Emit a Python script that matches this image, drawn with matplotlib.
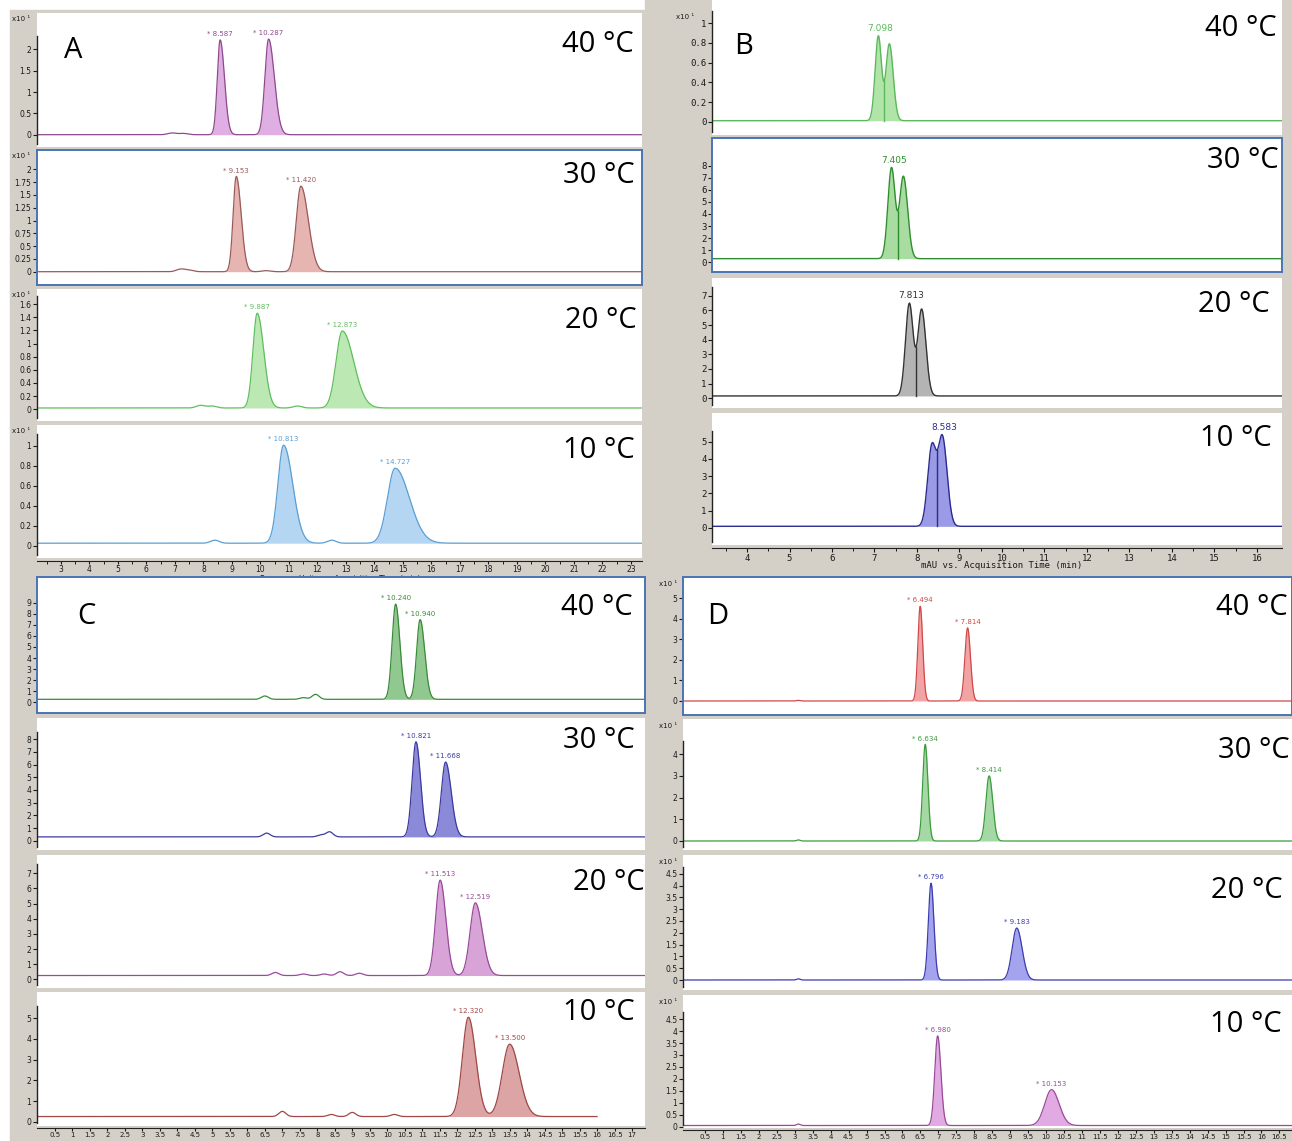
import numpy as np
import matplotlib
matplotlib.use("Agg")
import matplotlib.pyplot as plt
import matplotlib.transforms as mtrans

# ---------------- data ----------------
temps = ['40 °C', '30 °C', '20 °C', '10 °C']

# Panel A  (response x10^1)
A_rt = [[8.587, 10.287], [9.153, 11.420], [9.887, 12.873], [10.813, 14.727]]
A_height = [[2.22, 2.24], [1.86, 1.67], [1.44, 1.17], [0.98, 0.75]]
A_sig_l = [[0.10, 0.13], [0.11, 0.16], [0.15, 0.22], [0.20, 0.27]]
A_sig_r = [[0.15, 0.20], [0.17, 0.26], [0.23, 0.40], [0.32, 0.50]]
A_base = [0.0, 0.0, 0.02, 0.025]
A_bump_rt = [[6.9, 7.3], [7.2, 7.5, 10.2], [7.9, 8.3, 11.3], [8.4, 12.5]]
A_bump_h = [[0.04, 0.03], [0.05, 0.03, 0.02], [0.04, 0.03, 0.03], [0.03, 0.03]]
A_yticks = [[0, 0.5, 1, 1.5, 2],
            [0, 0.25, 0.5, 0.75, 1, 1.25, 1.5, 1.75, 2],
            [0, 0.2, 0.4, 0.6, 0.8, 1, 1.2, 1.4, 1.6],
            [0, 0.2, 0.4, 0.6, 0.8, 1]]
A_xticks = list(range(3, 24))

# Panel B  (mAU)
B_rt = [[7.09, 7.35], [7.40, 7.68], [7.82, 8.11], [8.35, 8.60]]
B_height = [[0.86, 0.78], [7.5, 6.8], [6.3, 5.9], [4.6, 5.1]]
B_sig_l = [[0.075, 0.08], [0.085, 0.09], [0.09, 0.09], [0.10, 0.10]]
B_sig_r = [[0.075, 0.09], [0.085, 0.10], [0.09, 0.10], [0.10, 0.11]]
B_base = [0.01, 0.3, 0.16, 0.08]
B_label = ['7.098', '7.405', '7.813', '8.583']
B_label_peak = [0, 0, 0, 1]
B_yticks = [[0, 0.2, 0.4, 0.6, 0.8, 1],
            [0, 1, 2, 3, 4, 5, 6, 7, 8],
            [0, 1, 2, 3, 4, 5, 6, 7],
            [0, 1, 2, 3, 4, 5]]
B_xticks = list(range(4, 17))

# Panel C
C_rt = [[10.240, 10.940], [10.821, 11.668], [11.513, 12.519], [12.320, 13.500]]
C_height = [[8.6, 7.2], [7.5, 5.9], [6.3, 4.8], [4.8, 3.5]]
C_sig_l = [[0.10, 0.10], [0.11, 0.12], [0.13, 0.15], [0.17, 0.21]]
C_sig_r = [[0.12, 0.13], [0.13, 0.16], [0.16, 0.20], [0.21, 0.27]]
C_base = [0.27, 0.3, 0.25, 0.25]
C_bump_rt = [[6.5, 7.6, 7.95], [6.55, 8.1, 8.35], [6.8, 7.6, 8.2, 8.65, 9.2], [7.0, 8.4, 9.0, 10.2]]
C_bump_h = [[0.3, 0.15, 0.45], [0.3, 0.15, 0.4], [0.2, 0.1, 0.1, 0.25, 0.15], [0.25, 0.1, 0.2, 0.1]]
C_end = [17.4, 17.4, 17.4, 16.0]
C_yticks = [list(range(0, 10)), list(range(0, 9)), list(range(0, 8)), list(range(0, 6))]
C_xticks = [v / 2 for v in range(1, 35)]

# Panel D  (x10^1)
D_rt = [[6.494, 7.814], [6.634, 8.414], [6.796, 9.183], [6.980, 10.153]]
D_height = [[4.6, 3.55], [4.45, 3.0], [4.1, 2.2], [3.75, 1.5]]
D_sig_l = [[0.065, 0.075], [0.07, 0.09], [0.075, 0.13], [0.08, 0.19]]
D_sig_r = [[0.07, 0.08], [0.075, 0.10], [0.08, 0.15], [0.09, 0.21]]
D_base = [0.0, 0.0, 0.0, 0.05]
D_bump_rt = [[3.1], [3.1], [3.1], [3.1]]
D_bump_h = [[0.03], [0.05], [0.05], [0.06]]
D_yticks = [[0, 1, 2, 3, 4, 5], [0, 1, 2, 3, 4],
            [0, 0.5, 1, 1.5, 2, 2.5, 3, 3.5, 4, 4.5],
            [0, 0.5, 1, 1.5, 2, 2.5, 3, 3.5, 4, 4.5]]
D_xticks = [v / 2 for v in range(1, 34)]

# ---------------- styling ----------------
W, H = 1292, 1141
GRAY = '#d4d0c8'
BOX = '#4a74b4'
TXT = '#1a1a1a'

A_line = ['#8e4a8e', '#9a5a5a', '#5fbf5f', '#5a9fd4']
A_fill = ['#dfaee3', '#e6b5b2', '#bce8b4', '#b4d6f2']
B_line = ['#5cb85c', '#2f8f2f', '#333333', '#2c2c90']
B_fill = ['#b0e4a8', '#a8dca0', '#b4b4b4', '#9a9ae6']
C_line = ['#3a8a3a', '#3c3ca0', '#9a4a9a', '#a04848']
C_fill = ['#90c890', '#8a8ad8', '#d8a4d8', '#dca4a4']
D_line = ['#d04848', '#3c9c3c', '#3c3cb0', '#9a4a9a']
D_fill = ['#f2a4a4', '#a4d8a4', '#a4a4ee', '#e2aae2']

fig = plt.figure(figsize=(W / 100, H / 100), dpi=100, facecolor='white')
fig.patches.append(plt.Rectangle((10 / W, 0), 1, 1 - 10 / H, transform=fig.transFigure,
                                 color=GRAY, zorder=-10))
fig.patches.append(plt.Rectangle((645 / W, 0), 1, 1, transform=fig.transFigure,
                                 color=GRAY, zorder=-10))


def rect(x0, y0, x1, y1):
    return [x0 / W, 1 - y1 / H, (x1 - x0) / W, (y1 - y0) / H]


def fmt(v):
    return '%g' % v


def trace(x, base, rts, hs, sl, sr, brt, bh, bw):
    y = np.full_like(x, base, dtype=float)
    for r, h, a, b in zip(rts, hs, sl, sr):
        s = np.where(x < r, a, b)
        y = y + h * np.exp(-0.5 * ((x - r) / s) ** 2)
    for r, h in zip(brt, bh):
        y = y + h * np.exp(-0.5 * ((x - r) / bw) ** 2)
    return y


def make_axes(x0, x1, y0, y1, zero, unit, xlim, boxed, yticks, tsize=5.5, tfont=None):
    ax = fig.add_axes(rect(x0, y0, x1, y1), zorder=2)
    ax.set_facecolor('white')
    ax.set_xlim(*xlim)
    ymin, ymax = -(y1 - zero) / unit, (zero - y0) / unit
    ax.set_ylim(ymin, ymax)
    ax.set_xticks([])
    ax.set_yticks(yticks)
    ax.set_yticklabels([fmt(v) for v in yticks])
    for lab in ax.get_yticklabels():
        lab.set_fontsize(tsize)
        if tfont:
            lab.set_family(tfont)
    ax.tick_params(axis='y', length=3, width=0.8, pad=1, colors=TXT)
    if boxed:
        for s in ax.spines.values():
            s.set_color(BOX)
            s.set_linewidth(1.4)
    else:
        for s in ['top', 'right', 'bottom']:
            ax.spines[s].set_visible(False)
        ax.spines['left'].set_color('#222222')
        ax.spines['left'].set_linewidth(1.0)
        step = yticks[1] - yticks[0]
        ax.spines['left'].set_bounds(ymin + 0.02 * (ymax - ymin), yticks[-1] + 0.6 * step)
    return ax


def xstrip(x0, x1, y, xlim, ticks, labsize=5.5, minor=None, tfont=None, length=3, pad=1):
    ax = fig.add_axes(rect(x0, y, x1, y + 1), zorder=1)
    ax.set_facecolor('none')
    ax.set_xlim(*xlim)
    ax.set_yticks([])
    for s in ['top', 'right', 'left']:
        ax.spines[s].set_visible(False)
    ax.spines['bottom'].set_color('#222222')
    ax.set_xticks(ticks)
    ax.set_xticklabels([fmt(t) for t in ticks])
    for lab in ax.get_xticklabels():
        lab.set_fontsize(labsize)
        if tfont:
            lab.set_family(tfont)
    ax.tick_params(axis='x', length=length, width=0.8, pad=pad, colors=TXT)
    if minor is not None:
        ax.set_xticks(minor, minor=True)
        ax.tick_params(axis='x', which='minor', length=2, width=0.6)
    return ax


def x10(x, y):
    fig.text(x / W, 1 - y / H, 'x10 ¹', fontsize=5, color=TXT, ha='left', va='center')


def big(x, y, s, ha='right'):
    fig.text(x / W, 1 - y / H, s, fontsize=21, family='Open Sans', color='black',
             ha=ha, va='center')


def draw_simple(ax, xlim, end, base, rts, hs, sl, sr, brt, bh, bw, lc, fc, lsize=5):
    x = np.linspace(xlim[0], min(xlim[1], end), 4000)
    y = trace(x, base, rts, hs, sl, sr, brt, bh, bw)
    for r, a, b in zip(rts, sl, sr):
        m = (x > r - 3.6 * a) & (x < r + 4.2 * b)
        ax.fill_between(x[m], base, y[m], color=fc, lw=0, zorder=1)
    ax.plot(x, y, color=lc, lw=0.9, zorder=2)
    ytop = trace(np.array(rts, dtype=float), base, rts, hs, sl, sr, brt, bh, bw)
    for r, yt in zip(rts, ytop):
        ax.annotate('* %.3f' % r, xy=(r, yt), xytext=(0, 2),
                    textcoords='offset points', ha='center', va='bottom', fontsize=lsize,
                    color=lc)


# ---------------- Panel A ----------------
A_xlim = (2.16, 23.39)
A_rows = [(13, 147, False, 134.7, 42.7), (150, 285, True, 271.7, 51.2),
          (289, 421, False, 409.3, 65.8), (425, 558, False, 545.7, 100.0)]
for i, (y0, y1, bx, z, u) in enumerate(A_rows):
    ax = make_axes(37, 642, y0, y1, z, u, A_xlim, bx, A_yticks[i])
    draw_simple(ax, A_xlim, 99, A_base[i], A_rt[i], A_height[i], A_sig_l[i], A_sig_r[i],
                A_bump_rt[i], A_bump_h[i], 0.15, A_line[i], A_fill[i])
    x10(12, y0 + 6)
xs = xstrip(37, 642, 560, A_xlim, A_xticks, minor=[v + 0.5 for v in range(2, 23)],
            length=2.5, pad=0.5)
xs.text(12.8, 0, 'Response Units vs. Acquisition Time (min)', ha='center', va='top',
        fontsize=5.5, color=TXT, clip_on=False,
        transform=xs.transData + mtrans.ScaledTranslation(0, -14 / 100, fig.dpi_scale_trans))
for (t, yy, xr) in zip(temps, [44, 176, 320, 450], [634, 635, 637, 635]):
    big(xr, yy, t)
big(73, 50, 'A', ha='center')

# ---------------- Panel B ----------------
B_xlim = (3.176, 16.59)
B_rows = [(0, 135, False, 121.7, 98.4), (138, 272, True, 262.3, 12.08),
          (278, 408, False, 398.3, 14.66), (413, 545, False, 527.7, 17.2)]
for i, (y0, y1, bx, z, u) in enumerate(B_rows):
    ax = make_axes(712, 1282, y0, y1, z, u, B_xlim, bx, B_yticks[i], tsize=6.5,
                   tfont='DejaVu Sans Mono')
    x = np.linspace(B_xlim[0], B_xlim[1], 5000)
    base = B_base[i]
    args = (base, B_rt[i], B_height[i], B_sig_l[i], B_sig_r[i], [], [], 0.1)
    y = trace(x, *args)
    r1, r2 = B_rt[i]
    lo = r1 - 3.6 * B_sig_l[i][0]
    hi = r2 + 3.8 * B_sig_r[i][1]
    seg = (x > r1) & (x < r2)
    xv = x[seg][np.argmin(y[seg])]
    yv = trace(np.array([xv]), *args)[0]
    m = (x > lo) & (x < hi)
    ax.fill_between(x[m], base, y[m], color=B_fill[i], lw=0, zorder=1)
    ax.plot(x, y, color=B_line[i], lw=1.0, zorder=2)
    ax.plot([xv, xv], [base, yv], color=B_line[i], lw=1.0, zorder=2)
    k = B_label_peak[i]
    ytop = trace(np.array([B_rt[i][k]]), *args)[0]
    ax.annotate(B_label[i], xy=(B_rt[i][k] + 0.05, ytop), xytext=(0, 2),
                textcoords='offset points', ha='center', va='bottom', fontsize=6.5,
                color=B_line[i])
x10(676, 17)
xb = xstrip(712, 1282, 547, B_xlim, B_xticks, labsize=6.5, tfont='DejaVu Sans Mono',
            minor=[v + 0.5 for v in range(3, 16)])
xb.text(10.0, 0, 'mAU vs. Acquisition Time (min)', ha='center', va='top', fontsize=6.5,
        color=TXT, family='DejaVu Sans Mono', clip_on=False,
        transform=xb.transData + mtrans.ScaledTranslation(0, -13 / 100, fig.dpi_scale_trans))
for (t, yy, xr) in zip(temps, [29, 160, 305, 438], [1277, 1279, 1270, 1272]):
    big(xr, yy, t)
big(744, 46, 'B', ha='center')

# ---------------- Panel C ----------------
C_xlim = (-0.015, 17.37)
C_rows = [(577, 713, True, 702.3, 11.07), (718, 850, False, 840.7, 12.68),
          (855, 988, False, 979.3, 15.14), (992, 1126, False, 1121.7, 20.68)]
for i, (y0, y1, bx, z, u) in enumerate(C_rows):
    ax = make_axes(37, 645, y0, y1, z, u, C_xlim, bx, C_yticks[i])
    draw_simple(ax, C_xlim, C_end[i], C_base[i], C_rt[i], C_height[i], C_sig_l[i], C_sig_r[i],
                C_bump_rt[i], C_bump_h[i], 0.1, C_line[i], C_fill[i])
xstrip(37, 645, 1127, C_xlim, C_xticks, labsize=5, length=2.5, pad=0.5)
for (t, yy, xr) in zip(temps, [607, 740, 882, 1013], [633, 635, 645, 635]):
    big(xr, yy, t)
big(86, 616, 'C', ha='center')

# ---------------- Panel D ----------------
D_xlim = (-0.113, 16.85)
D_rows = [(577, 715, True, 701.0, 20.6), (719, 850, False, 841.0, 21.7),
          (855, 990, False, 980.0, 23.6), (995, 1128, False, 1126.7, 23.9)]
for i, (y0, y1, bx, z, u) in enumerate(D_rows):
    ax = make_axes(683, 1292, y0, y1, z, u, D_xlim, bx, D_yticks[i])
    draw_simple(ax, D_xlim, 99, D_base[i], D_rt[i], D_height[i], D_sig_l[i], D_sig_r[i],
                D_bump_rt[i], D_bump_h[i], 0.05, D_line[i], D_fill[i])
    x10(659, y0 + 7)
xstrip(683, 1292, 1129, D_xlim, D_xticks, labsize=5, length=2.5, pad=0.5)
for (t, yy, xr) in zip(temps, [607, 750, 891, 1025], [1288, 1290, 1283, 1282]):
    big(xr, yy, t)
big(718, 616, 'D', ha='center')

fig.savefig('out.png', dpi=100, facecolor=fig.get_facecolor())
